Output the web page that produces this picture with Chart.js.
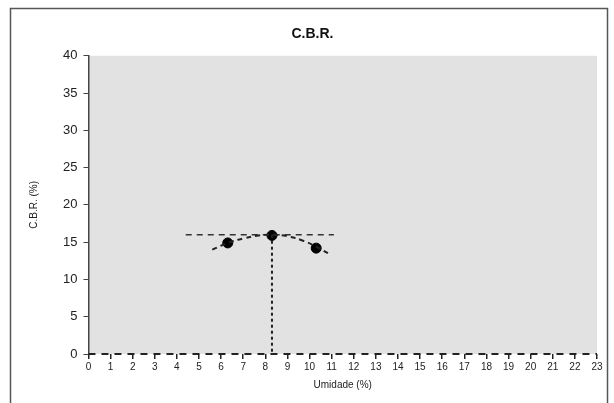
<!DOCTYPE html>
<html>
<head>
<meta charset="utf-8">
<script src="https://cdn.jsdelivr.net/npm/chart.js@4"></script>
<style>
  html, body { margin: 0; padding: 0; background: #fff; }
  #wrap { width: 614px; height: 403px; }
</style>
</head>
<body>
<div id="wrap"><canvas id="cbrChart" width="614" height="403"></canvas></div>
<script>
// ensaios (umidade %, CBR %)
var umidade = [6.3, 8.3, 10.3];
var cbr = [14.9, 15.9, 14.2];

// curva ajustada
var curvaUmidade = [5.6, 6.3, 7.0, 7.7, 8.3, 9.0, 9.7, 10.3, 10.9];
var curvaCbr = [14.0, 14.9, 15.5, 15.9, 16.0, 15.8, 15.2, 14.4, 13.4];

// CBR máximo e umidade ótima
var linhaMaxX = [4.4, 11.1];
var linhaMaxY = [16.0, 16.0];
var otimaX = [8.3, 8.3];
var otimaY = [16.0, 0];

// eixo x tracejado
var eixoX = [0, 23];
var eixoY = [0, 0];

var xTicks = [];
for (var i = 0; i <= 23; i++) xTicks.push(i);

function pts(xs, ys) {
    return xs.map(function(x, k) { return { x: x, y: ys[k] }; });
}

// moldura e fundo cinza da área do gráfico
var framePlugin = {
    id: 'frame',
    beforeDraw: function(chart) {
        var c = chart.ctx, a = chart.chartArea;
        c.save();
        c.fillStyle = '#fff';
        c.fillRect(0, 0, chart.width, chart.height);
        c.strokeStyle = '#555';
        c.lineWidth = 1.5;
        c.strokeRect(10.5, 8.5, 597, 400);
        c.fillStyle = '#e2e2e2';
        c.fillRect(a.left, a.top, a.right - a.left, a.bottom - a.top);
        c.restore();
    }
};

var ctx = document.getElementById('cbrChart').getContext('2d');
var chart = new Chart(ctx, {
    type: 'scatter',
    data: {
        datasets: [{
            label: 'Eixo',
            data: pts(eixoX, eixoY),
            showLine: true,
            borderColor: '#222',
            borderWidth: 2,
            borderDash: [7, 6],
            pointRadius: 0,
            clip: 4
        }, {
            label: 'Curva',
            data: pts(curvaUmidade, curvaCbr),
            showLine: true,
            tension: 0.4,
            borderColor: '#222',
            borderWidth: 2,
            borderDash: [5, 4],
            pointRadius: 0
        }, {
            label: 'Máximo',
            data: pts(linhaMaxX, linhaMaxY),
            showLine: true,
            borderColor: '#333',
            borderWidth: 1.5,
            borderDash: [6, 5],
            pointRadius: 0
        }, {
            label: 'Umidade ótima',
            data: pts(otimaX, otimaY),
            showLine: true,
            borderColor: '#222',
            borderWidth: 2,
            borderDash: [3, 3],
            pointRadius: 0
        }, {
            label: 'Ensaios',
            data: pts(umidade, cbr),
            backgroundColor: '#000',
            borderColor: '#000',
            pointRadius: 5,
            pointHoverRadius: 5
        }]
    },
    options: {
        responsive: false,
        animation: false,
        layout: { padding: { left: 28, right: 17, top: 10, bottom: 12 } },
        plugins: {
            legend: { display: false },
            tooltip: { enabled: false },
            title: {
                display: true,
                text: 'C.B.R.',
                color: '#111',
                font: { family: 'Liberation Sans, Arial', size: 14, weight: 'bold' },
                padding: { top: 16, bottom: 13 }
            }
        },
        scales: {
            x: {
                type: 'linear',
                min: 0,
                max: 23,
                afterBuildTicks: function(axis) {
                    axis.ticks = xTicks.map(function(v) { return { value: v }; });
                },
                grid: { drawOnChartArea: false, tickLength: 5, color: '#222', lineWidth: 1.5 },
                border: { display: false },
                ticks: {
                    color: '#222',
                    padding: 2,
                    maxRotation: 0,
                    autoSkip: false,
                    font: { family: 'Liberation Sans, Arial', size: 10 }
                },
                title: {
                    display: true,
                    text: 'Umidade (%)',
                    color: '#222',
                    padding: { top: 4, bottom: 0 },
                    font: { family: 'Liberation Sans, Arial', size: 10 }
                }
            },
            y: {
                min: 0,
                max: 40,
                ticks: {
                    stepSize: 5,
                    color: '#222',
                    padding: 6,
                    font: { family: 'Liberation Sans, Arial', size: 13 }
                },
                grid: { drawOnChartArea: false, tickLength: 5, color: '#444', lineWidth: 1 },
                border: { display: true, color: '#444', width: 1.5 },
                title: {
                    display: true,
                    text: 'C.B.R. (%)',
                    color: '#222',
                    padding: { top: 0, bottom: 17 },
                    font: { family: 'Liberation Sans, Arial', size: 10 }
                }
            }
        }
    },
    plugins: [framePlugin]
});
</script>
</body>
</html>
